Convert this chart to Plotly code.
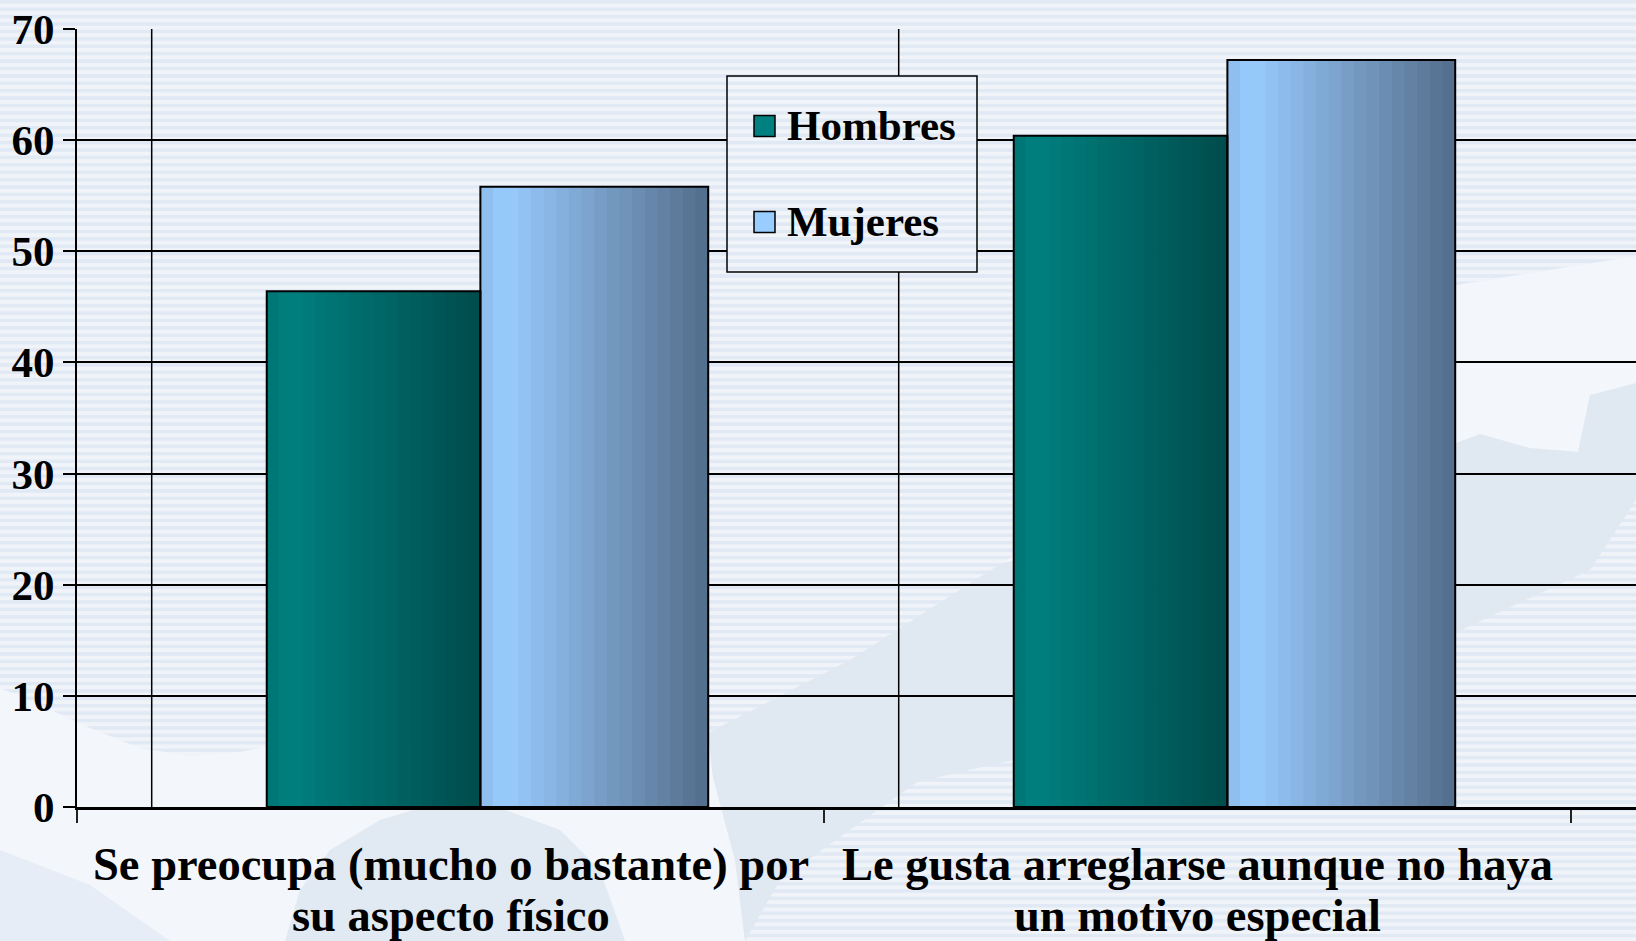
import plotly.graph_objects as go

# datos
categorias = ["Se preocupa (mucho o bastante) por su aspecto físico",
              "Le gusta arreglarse aunque no haya un motivo especial"]
etiquetas = [["Se preocupa (mucho o bastante) por", "su aspecto físico"],
             ["Le gusta arreglarse aunque no haya", "un motivo especial"]]
hombres = [46.4, 60.4]
mujeres = [55.8, 67.2]
ticks_y = [0, 10, 20, 30, 40, 50, 60, 70]
series = ["Hombres", "Mujeres"]

# geometry of the page (pixels)
W, H = 1636, 941
L, T, B = 77, 29, 134
PW, PH = W - L, H - T - B
CAT_PX = 747.0


def px(x):
    return (x - L) / PW


def py(y):
    return (H - B - y) / PH


def path(points):
    return "M " + " L ".join(f"{px(x):.5f},{py(y):.5f}" for x, y in points) + " Z"


def hex2rgb(h):
    h = h.lstrip("#")
    return [int(h[i:i + 2], 16) for i in (0, 2, 4)]


def grad(stops, t):
    for (t0, c0), (t1, c1) in zip(stops, stops[1:]):
        if t <= t1:
            f = (t - t0) / (t1 - t0)
            a, b = hex2rgb(c0), hex2rgb(c1)
            return "rgb(%d,%d,%d)" % tuple(round(a[k] + (b[k] - a[k]) * f) for k in range(3))
    return stops[-1][1]


teal = [(0, "#007373"), (0.1, "#008080"), (1, "#004b4b")]
blue = [(0, "#8abae8"), (0.1, "#99ccff"), (1, "#536c8a")]
FONT = "Liberation Serif"

fig = go.Figure()

# shaded bars built from narrow strips
N = 18
for vals, off, w, stops in [(hombres, -0.246, 0.286, teal), (mujeres, 0.040, 0.305, blue)]:
    for i in range(N):
        fig.add_trace(go.Bar(
            x=categorias, y=vals,
            offset=off + i * w / N, width=w / N * 1.06,
            marker=dict(color=grad(stops, (i + 0.5) / N), line=dict(width=0)),
            showlegend=False, hoverinfo="skip"))
for name, vals, off, w in [("Hombres", hombres, -0.246, 0.286), ("Mujeres", mujeres, 0.040, 0.305)]:
    fig.add_trace(go.Bar(
        x=categorias, y=vals, offset=off, width=w, name=name,
        marker=dict(color="rgba(0,0,0,0)", line=dict(color="black", width=2)),
        showlegend=False))

# background: stripes and soft shapes
shapes = []
STRIPE = 7.41
DARK = "#e1e9f4"
y = 0.0
while y < H:
    shapes.append(dict(type="rect", xref="paper", yref="paper", layer="below",
                       x0=px(0), x1=px(W), y0=py(y), y1=py(y + 3.6),
                       fillcolor=DARK, line=dict(width=0)))
    y += STRIPE

WHITE = "#f3f6fa"
BLUISH = "#e0e8f2"
soft = [
    (WHITE, [(0, 688), (40, 705), (90, 728), (140, 748), (190, 756), (240, 752), (275, 745),
             (480, 740), (620, 735), (708, 733), (713, 777), (735, 860), (745, 941), (0, 941)]),
    (BLUISH, [(708, 733), (850, 660), (1002, 563), (1200, 440), (1456, 285), (1636, 256),
              (1636, 500), (1590, 570), (1457, 632), (1200, 690), (1013, 760), (917, 782),
              (780, 880), (745, 941), (735, 860), (713, 777)]),
    (WHITE, [(1002, 563), (1200, 440), (1456, 285), (1636, 256), (1636, 383), (1610, 390),
             (1590, 395), (1578, 452), (1530, 448), (1480, 434), (1456, 443), (1300, 490),
             (1100, 545)]),
    ("#e1e9f3", [(285, 941), (300, 890), (330, 850), (380, 820), (420, 808), (500, 808),
                 (560, 830), (600, 870), (625, 941)]),
    ("#e6edf6", [(0, 850), (90, 885), (170, 941), (0, 941)]),
]
for col, pts in soft:
    shapes.append(dict(type="path", xref="paper", yref="paper", layer="below",
                       path=path(pts), fillcolor=col, line=dict(width=0)))

# extra vertical gridlines of the original chart
for gx in [-0.4, 0.6]:
    shapes.append(dict(type="line", xref="x", yref="y", layer="between",
                       x0=gx, x1=gx, y0=0, y1=70, line=dict(color="black", width=1.5)))

# legend box (hides the gridlines behind it)
LX0, LX1, LY0, LY1 = 727, 977, 76, 272
shapes.append(dict(type="rect", xref="paper", yref="paper", layer="above",
                   x0=px(LX0), x1=px(LX1), y0=py(LY0), y1=py(LY1),
                   fillcolor="#f1f5fa", line=dict(width=0)))
y = 0.0
while y < H:
    a, b = max(y, LY0), min(y + 3.6, LY1)
    if a < b:
        shapes.append(dict(type="rect", xref="paper", yref="paper", layer="above",
                           x0=px(LX0), x1=px(LX1), y0=py(a), y1=py(b),
                           fillcolor=DARK, line=dict(width=0)))
    y += STRIPE
shapes.append(dict(type="rect", xref="paper", yref="paper", layer="above",
                   x0=px(LX0), x1=px(LX1), y0=py(LY0), y1=py(LY1),
                   line=dict(color="black", width=1.5)))
annotations = []
for name, col, cy in [("Hombres", "#008080", 126), ("Mujeres", "#99ccff", 222)]:
    shapes.append(dict(type="rect", xref="paper", yref="paper", layer="above",
                       x0=px(754), x1=px(775), y0=py(cy - 10.5), y1=py(cy + 10.5),
                       fillcolor=col, line=dict(color="black", width=1.5)))
    annotations.append(dict(xref="paper", yref="paper", x=px(785), y=py(cy),
                            xanchor="left", yanchor="middle", showarrow=False, text=name,
                            font=dict(family=FONT, size=43, color="black", weight="bold")))

# category labels, one line each (tighter line spacing than tick labels)
for cat, lines in zip(categorias, etiquetas):
    for k, line in enumerate(lines):
        annotations.append(dict(xref="x", yref="paper", x=cat, y=py(864 + 51 * k),
                                xanchor="center", yanchor="middle", showarrow=False,
                                text=line,
                                font=dict(family=FONT, size=46.5, color="black",
                                          weight="bold")))

fig.update_layout(
    width=W, height=H,
    margin=dict(l=L, r=0, t=T, b=B, pad=0),
    paper_bgcolor="#f0f4f9",
    plot_bgcolor="rgba(0,0,0,0)",
    barmode="overlay",
    showlegend=False,
    shapes=shapes,
    annotations=annotations,
    xaxis=dict(type="category", range=[-0.5, -0.5 + PW / CAT_PX],
               tickson="boundaries", ticks="outside", ticklen=13, tickwidth=1.5,
               tickcolor="#222", showline=True, linecolor="black", linewidth=3,
               showgrid=False, zeroline=False, showticklabels=False, automargin=False),
    yaxis=dict(range=[0, 70], tickmode="array", tickvals=ticks_y,
               showgrid=True, gridcolor="black", gridwidth=1.5,
               showline=True, linecolor="black", linewidth=2, zeroline=False,
               ticks="outside", ticklen=12, tickwidth=1.5, tickcolor="black",
               ticklabelstandoff=0, automargin=False,
               tickfont=dict(family=FONT, size=43, color="black", weight="bold")),
)

fig.write_html("out.html", config={"displayModeBar": False},
               post_script="document.body.style.margin='0';document.body.style.overflow='hidden';")
